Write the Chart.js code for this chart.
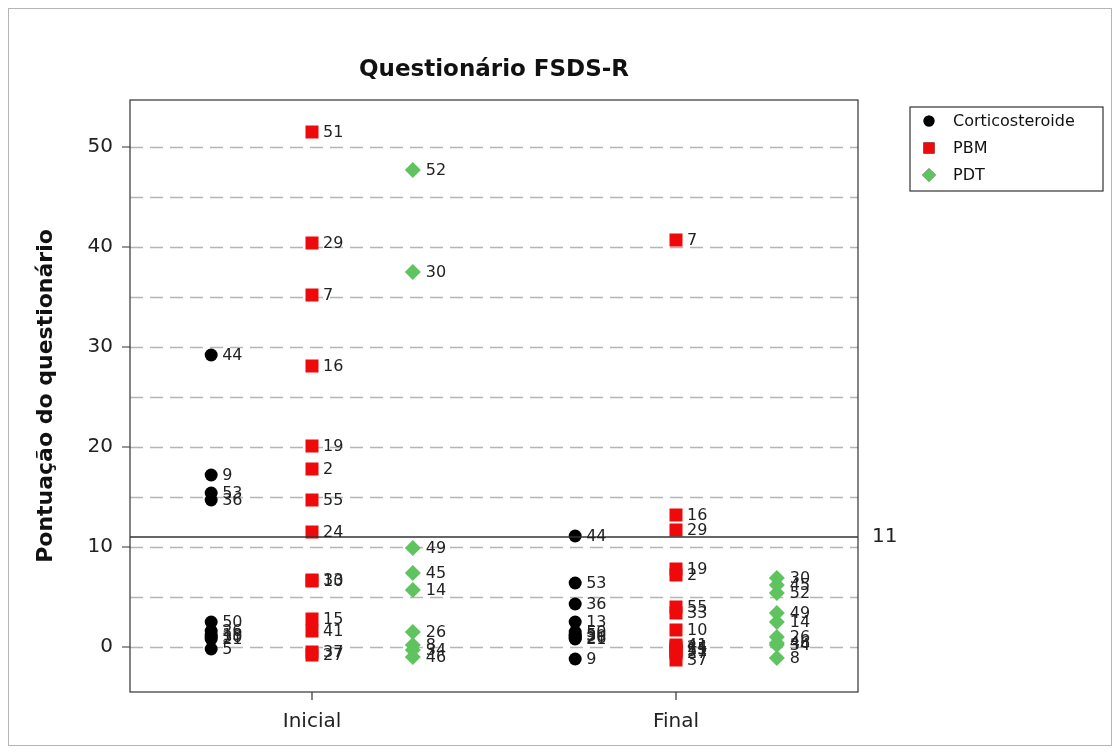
<!DOCTYPE html>
<html>
<head>
<meta charset="utf-8">
<script src="https://cdn.jsdelivr.net/npm/chart.js@4.4.1/dist/chart.umd.min.js"></script>
<style>
  html, body { margin: 0; padding: 0; background: #fff; }
  #wrap { width: 1119px; height: 753px; position: relative; }
</style>
</head>
<body>
<div id="wrap"><canvas id="grafico" width="1119" height="753"></canvas></div>
<script>
// dados
const momentos = ['Inicial', 'Final'];
const grupos = ['Corticosteroide', 'PBM', 'PDT'];

const cortIds     = [44, 9, 53, 36, 50, 26, 13, 21, 30, 5];
const cortInicial = [29.2, 17.2, 15.4, 14.7, 2.5, 1.6, 1.2, 0.8, 1.0, -0.2];
const cortFinal   = [11.1, -1.2, 6.4, 4.3, 1.5, 0.9, 2.5, 0.8, 1.1, 1.2];

const pbmIds     = [51, 29, 7, 16, 19, 2, 55, 24, 33, 10, 15, 41, 37, 27];
const pbmInicial = [51.5, 40.4, 35.2, 28.1, 20.1, 17.8, 14.7, 11.5, 6.7, 6.6, 2.8, 1.6, -0.5, -0.8];
const pbmFinal   = [-0.4, 11.7, 40.7, 13.2, 7.8, 7.2, 4.0, 0.0, 3.4, 1.7, -0.2, 0.2, -1.3, -0.6];

const pdtIds     = [52, 30, 49, 45, 14, 26, 8, 34, 46];
const pdtInicial = [47.7, 37.5, 9.9, 7.4, 5.7, 1.5, 0.2, -0.3, -1.0];
const pdtFinal   = [5.4, 6.9, 3.4, 6.2, 2.5, 1.0, -1.1, 0.2, 0.4];

const yTicks = [0, 10, 20, 30, 40, 50];
const linhaCorte = 11;

const fonte = '"DejaVu Sans", Verdana, sans-serif';
const deslocamento = 0.277; // afastamento dos grupos dentro de cada momento

function montarPontos(ids, inicial, final, desl) {
    const pts = [];
    ids.forEach((id, i) => {
        pts.push({ x: 1 + desl, y: inicial[i], id: id });
        pts.push({ x: 2 + desl, y: final[i], id: id });
    });
    return pts;
}

// Plugin para grade, título, caixa, linha de corte, rótulos e legenda
const extras = {
    id: 'extras',
    beforeDraw(chart) {
        const ctx = chart.ctx;
        ctx.save();
        ctx.fillStyle = '#fff';
        ctx.fillRect(0, 0, chart.width, chart.height);
        ctx.strokeStyle = '#b5b5b5';
        ctx.lineWidth = 1;
        ctx.strokeRect(8.5, 8.5, 1103, 737);
        ctx.restore();
    },
    beforeDatasetsDraw(chart) {
        // grade tracejada a cada 5 pontos
        const ctx = chart.ctx;
        const a = chart.chartArea;
        const y = chart.scales.y;
        ctx.save();
        ctx.strokeStyle = '#b5b5b5';
        ctx.lineWidth = 1.3;
        ctx.setLineDash([13, 7]);
        y.ticks.forEach(t => {
            const py = Math.round(y.getPixelForValue(t.value)) + 0.5;
            ctx.beginPath();
            ctx.moveTo(a.left, py);
            ctx.lineTo(a.right, py);
            ctx.stroke();
        });
        ctx.restore();
    },
    afterDatasetsDraw(chart) {
        const ctx = chart.ctx;
        const a = chart.chartArea;
        const y = chart.scales.y;
        const x = chart.scales.x;
        ctx.save();

        // linha de corte
        const yc = y.getPixelForValue(linhaCorte);
        ctx.strokeStyle = '#333';
        ctx.lineWidth = 1.5;
        ctx.beginPath();
        ctx.moveTo(a.left, yc);
        ctx.lineTo(a.right, yc);
        ctx.stroke();
        ctx.fillStyle = '#222';
        ctx.font = '20px ' + fonte;
        ctx.textBaseline = 'middle';
        ctx.textAlign = 'left';
        ctx.fillText(String(linhaCorte), a.right + 14, yc);

        // rótulos dos pontos
        ctx.font = '16px ' + fonte;
        chart.data.datasets.forEach((ds, di) => {
            const meta = chart.getDatasetMeta(di);
            const off = ds.pointStyle === 'rectRot' ? 13 : 11;
            meta.data.forEach((el, i) => {
                ctx.fillText(String(ds.data[i].id), el.x + off, el.y + 1);
            });
        });

        // caixa da área
        ctx.strokeStyle = '#333';
        ctx.lineWidth = 1.2;
        ctx.strokeRect(a.left, a.top, a.right - a.left, a.bottom - a.top);

        // marcas dos eixos
        ctx.beginPath();
        yTicks.forEach(v => {
            const py = y.getPixelForValue(v);
            ctx.moveTo(a.left - 8, py);
            ctx.lineTo(a.left, py);
        });
        [1, 2].forEach(v => {
            const px = x.getPixelForValue(v);
            ctx.moveTo(px, a.bottom);
            ctx.lineTo(px, a.bottom + 8);
        });
        ctx.stroke();

        // título
        ctx.fillStyle = '#111';
        ctx.textAlign = 'center';
        ctx.font = 'bold 23px ' + fonte;
        ctx.fillText('Questionário FSDS-R', (a.left + a.right) / 2, 70);

        // título do eixo y
        ctx.save();
        ctx.translate(46, (a.top + a.bottom) / 2);
        ctx.rotate(-Math.PI / 2);
        ctx.font = 'bold 22px ' + fonte;
        ctx.fillText('Pontuação do questionário', 0, 0);
        ctx.restore();

        // legenda
        ctx.strokeStyle = '#333';
        ctx.lineWidth = 1.2;
        ctx.strokeRect(910, 107, 193, 84);
        ctx.font = '16px ' + fonte;
        ctx.textAlign = 'left';
        chart.data.datasets.forEach((ds, di) => {
            const ly = 121 + di * 27;
            Chart.helpers.drawPoint(ctx, {
                pointStyle: ds.pointStyle,
                radius: ds.pointRadius * 0.85,
                borderWidth: 0,
                rotation: 0
            }, 929, ly);
            ctx.fillStyle = ds.backgroundColor;
            ctx.fill();
            ctx.fillStyle = '#111';
            ctx.fillText(ds.label, 953, ly + 1);
        });
        ctx.restore();
    }
};

const ctx = document.getElementById('grafico').getContext('2d');
const grafico = new Chart(ctx, {
    type: 'scatter',
    data: {
        datasets: [{
            label: grupos[0],
            data: montarPontos(cortIds, cortInicial, cortFinal, -deslocamento),
            backgroundColor: '#000000',
            borderColor: '#000000',
            pointStyle: 'circle',
            pointRadius: 6.5,
            borderWidth: 0
        }, {
            label: grupos[1],
            data: montarPontos(pbmIds, pbmInicial, pbmFinal, 0),
            backgroundColor: '#ee0a0a',
            borderColor: '#ee0a0a',
            pointStyle: 'rect',
            pointRadius: 9.2,
            borderWidth: 0
        }, {
            label: grupos[2],
            data: montarPontos(pdtIds, pdtInicial, pdtFinal, deslocamento),
            backgroundColor: '#5fc35f',
            borderColor: '#5fc35f',
            pointStyle: 'rectRot',
            pointRadius: 8,
            borderWidth: 0
        }]
    },
    options: {
        responsive: false,
        animation: false,
        layout: { padding: { top: 100, right: 261, bottom: 0, left: 0 } },
        plugins: {
            legend: { display: false },
            title: { display: false },
            tooltip: { enabled: false }
        },
        scales: {
            x: {
                type: 'linear',
                min: 0.5,
                max: 2.5,
                afterBuildTicks: (axis) => { axis.ticks = [{ value: 1 }, { value: 2 }]; },
                afterFit: (axis) => { axis.height = 61; },
                ticks: {
                    callback: (v) => momentos[v - 1] || '',
                    color: '#222',
                    font: { size: 20, family: fonte },
                    padding: 10
                },
                grid: { display: false },
                border: { display: false }
            },
            y: {
                min: -4.5,
                max: 54.7,
                afterBuildTicks: (axis) => {
                    const t = [];
                    for (let v = 0; v <= 50; v += 5) t.push({ value: v });
                    axis.ticks = t;
                },
                afterFit: (axis) => { axis.width = 130; },
                ticks: {
                    callback: (v) => (v % 10 === 0 ? String(v) : ''),
                    color: '#222',
                    font: { size: 20, family: fonte },
                    padding: 9
                },
                grid: { display: false },
                border: { display: false }
            }
        }
    },
    plugins: [extras]
});
</script>
</body>
</html>
